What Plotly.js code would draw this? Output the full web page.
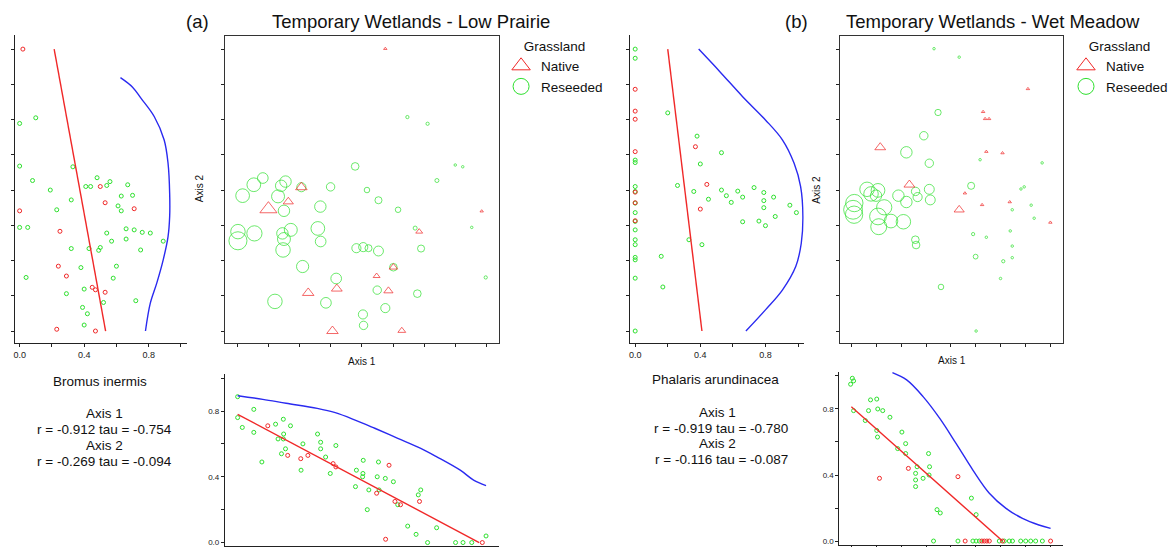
<!DOCTYPE html>
<html><head><meta charset="utf-8">
<script src="https://cdn.plot.ly/plotly-3.0.1.min.js"></script>
<style>html,body{margin:0;padding:0;background:#fff;}#chart{width:1173px;height:547px;}</style>
</head><body><div id="chart"></div>
<script>
// ---------- Panel (a): Temporary Wetlands - Low Prairie (Bromus inermis) ----------
// ordination scores (Axis 1, Axis 2) and species abundance per sample plot
const aNatAx1 = [2.05,0.99,1.63,5.84,5.01,4.47,4.85,3.19,2.27,3.05,5.28,7.85,4.75];
const aNatAx2 = [4.08,3.46,3.67,2.82,1.81,1.56,1.14,1.20,1.08,0.00,0.01,3.40,8.01];
const aNatAbund = [0.35,0.59,0.29,0.15,0.22,0.15,0.25,0.32,0.35,0.35,0.19,0.0,0.0];
const aResAx1 = [3.78,0.81,0.52,0.16,1.40,1.54,1.30,2.05,2.99,4.16,4.53,5.16,2.66,1.49,0.01,0.01,0.54,1.44,1.71,1.49,1.46,2.58,2.67,2.09,3.17,3.82,4.04,4.21,4.53,5.71,5.90,5.01,4.49,5.78,1.20,2.84,4.75,4.03,4.05,7.98,7.53,6.41,7.00,7.24,5.46,6.11];
const aResAx2 = [4.67,4.34,4.15,3.84,4.12,4.24,3.82,4.08,4.09,4.00,3.71,3.44,3.53,3.41,2.82,2.56,2.77,2.77,2.87,2.61,2.30,2.91,2.54,1.83,1.49,2.35,2.38,2.35,2.27,2.92,2.34,1.81,1.16,1.06,0.84,0.80,0.65,0.47,0.16,1.52,2.94,4.27,4.71,4.66,6.07,5.88];
const aResAbund = [0.27,0.43,0.59,0.59,0.47,0.47,0.55,0.35,0.31,0.16,0.24,0.16,0.47,0.47,0.63,0.82,0.67,0.47,0.55,0.55,0.63,0.59,0.43,0.51,0.43,0.35,0.35,0.24,0.39,0.08,0.24,0.27,0.31,0.27,0.63,0.43,0.35,0.35,0.31,0.04,0.0,0.08,0.0,0.0,0.04,0.04];
// side plot: abundance vs Axis 2
const aSideResAbund = [0.10,0.00,0.00,0.33,0.08,0.48,0.41,0.44,0.54,0.56,0.67,0.19,0.32,0.63,0.70,0.61,0.63,0.23,0.00,0.05,0.66,0.71,0.76,0.81,0.54,0.57,0.66,0.89,0.75,0.32,0.43,0.50,0.49,0.60,0.38,0.58,0.04,0.40,0.29,0.52,0.72,0.39,0.42,0.40];
const aSideResAx2 = [6.05,5.89,4.68,4.66,4.27,4.35,4.10,4.10,4.13,4.24,4.15,4.00,3.72,3.83,3.85,3.55,3.41,3.44,2.94,2.94,2.90,2.87,2.80,2.78,2.78,2.55,2.61,2.55,2.30,2.34,2.34,2.37,2.29,1.84,1.80,1.50,1.52,1.19,1.06,0.81,0.86,0.67,0.49,0.17];
const aSideNatAbund = [0.02,0.00,0.25,0.50,0.53,0.71,0.24,0.29,0.45,0.47,0.53,0.23,0.47];
const aSideNatAx2 = [8.00,3.41,2.83,4.10,3.64,3.47,1.84,1.56,1.24,1.17,1.10,0.05,0.00];
const aSideLinAbund = [0.214,0.533];
const aSideLinAx2 = [8.0,0.0];
const aSideSmAbund = [0.625,0.70,0.753,0.835,0.896,0.92,0.93,0.93,0.92,0.89,0.85,0.81,0.78];
const aSideSmAx2 = [7.19,6.92,6.60,6.08,5.42,4.76,3.91,3.25,2.68,2.02,1.36,0.79,0.0];
// bottom plot: Axis 1 vs abundance
const aBotResAx1 = [0.00,0.00,0.15,0.52,0.52,0.78,1.22,1.47,1.48,1.30,1.47,1.70,1.41,1.54,2.10,2.04,2.57,2.67,2.67,2.83,3.16,2.98,3.82,3.79,4.04,4.03,4.02,4.22,4.17,4.49,4.53,4.75,5.01,4.55,5.15,5.47,5.74,5.81,5.89,6.11,6.40,7.01,7.25,7.53,7.99];
const aBotResAbund = [0.887,0.76,0.70,0.81,0.67,0.49,0.72,0.75,0.66,0.63,0.63,0.71,0.54,0.57,0.60,0.44,0.66,0.61,0.57,0.52,0.59,0.42,0.44,0.34,0.50,0.42,0.40,0.32,0.20,0.40,0.49,0.39,0.37,0.32,0.23,0.10,0.05,0.29,0.32,0.0,0.09,0.0,0.0,0.0,0.04];
const aBotNatAx1 = [0.97,1.61,2.03,2.26,3.07,3.16,4.87,4.47,5.06,5.24,5.85,4.76,7.87];
const aBotNatAbund = [0.71,0.53,0.51,0.53,0.48,0.46,0.47,0.30,0.25,0.23,0.25,0.02,0.0];
const aBotLinAx1 = [0.0,7.77];
const aBotLinAbund = [0.78,0.0];
const aBotSmAx1 = [0.0,0.81,1.56,2.56,3.14,3.78,4.41,5.15,5.89,6.42,7.16,7.59,7.99];
const aBotSmAbund = [0.893,0.871,0.847,0.816,0.79,0.745,0.695,0.634,0.573,0.52,0.44,0.38,0.346];
const aStats = ['Bromus inermis','Axis 1','r = -0.912 tau = -0.754','Axis 2','r = -0.269 tau = -0.094'];

// ---------- Panel (b): Temporary Wetlands - Wet Meadow (Phalaris arundinacea) ----------
const bNatAx1 = [1.16,2.33,4.33,7.09,5.29,5.37,5.53,5.42,6.07,4.56,5.25,6.36,7.99];
const bNatAx2 = [5.21,4.15,3.44,6.87,6.22,6.02,6.02,5.09,5.05,3.91,3.58,3.66,3.08];
const bNatAbund = [0.32,0.32,0.29,0,0,0,0,0,0,0,0,0,0];
const bResAx1 = [3.32,4.33,3.48,2.91,2.21,3.13,4.81,5.17,7.66,6.81,6.94,7.22,6.46,7.34,6.38,4.89,5.42,6.46,4.99,6.46,6.10,5.99,3.60,5.01,0.12,0.07,0.11,0.63,0.79,1.07,0.99,1.32,1.07,1.10,1.59,2.09,1.89,2.21,2.58,2.66,3.13,3.17,2.57,2.60];
const bResAx2 = [8.01,7.77,6.20,5.54,5.07,4.76,4.12,4.86,4.77,4.03,4.09,3.57,3.44,3.20,2.84,2.75,2.66,2.41,2.11,2.08,1.98,1.49,1.25,0.00,3.63,3.44,3.30,4.02,3.89,3.99,3.84,3.51,3.25,2.96,3.12,3.10,3.84,3.66,3.96,3.80,4.02,3.72,2.59,2.44];
const bResAbund = [0,0,0.20,0.31,0.47,0.31,0.24,0,0,0,0,0,0,0,0,0.04,0,0,0.12,0,0.04,0,0.16,0,0.78,0.86,0.78,0.63,0.63,0.59,0.47,0.67,0.75,0.71,0.59,0.63,0.47,0.47,0.31,0.35,0.39,0.39,0.27,0.27];
const bSideResAbund = [0.00,0.00,0.20,0.38,0.40,0.53,0.00,0.00,0.26,0.36,0.45,0.53,0.56,0.59,0.63,0.66,0.73,0.79,0.79,0.79,0.85,0.86,0.95,0.99,0.76,0.80,0.66,0.33,0.41,0.16,0.17,0,0,0,0,0,0,0,0,0,0,0,0];
const bSideResAx2 = [8.00,7.74,6.19,5.53,4.74,5.06,4.85,4.78,4.13,3.96,3.74,4.00,3.84,3.65,3.97,3.80,4.07,3.93,3.70,3.50,3.80,3.25,3.57,3.36,3.12,2.99,3.10,2.59,2.45,2.12,1.25,4.10,3.96,3.63,3.36,3.11,2.87,2.59,2.45,2.09,2.02,1.50,0.00];
const bSideNatAbund = [0,0,0,0,0,0,0,0.37,0.44,0.40];
const bSideNatAx2 = [6.86,6.24,6.01,5.09,3.94,3.64,3.13,5.23,4.16,3.46];
const bSideLinAbund = [0.20,0.41];
const bSideLinAx2 = [8.0,0.0];
const bSideSmAbund = [0.39,0.52,0.66,0.80,0.905,0.976,1.016,1.03,1.02,0.986,0.905,0.80,0.68];
const bSideSmAx2 = [8.0,7.36,6.65,5.99,5.42,4.76,4.10,3.25,2.49,1.83,1.17,0.60,0.0];
const bBotResAx1 = [0.04,0.09,-0.03,0.09,0.56,0.69,0.77,1.02,1.06,1.26,1.55,1.02,1.05,2.03,2.18,1.86,2.18,2.64,2.58,2.58,2.58,2.88,3.10,3.14,3.12,3.44,3.57,4.82,5.01,3.30,4.28,4.88,5.01,5.14,5.94,6.14,6.34,6.47,6.80,7.00,7.20,7.40,7.67];
const bBotResAbund = [0.986,0.97,0.95,0.79,0.73,0.79,0.855,0.86,0.80,0.79,0.75,0.67,0.63,0.66,0.59,0.56,0.53,0.45,0.41,0.37,0.33,0.38,0.53,0.45,0.40,0.19,0.17,0.26,0.16,0,0,0,0,0,0,0,0,0,0,0,0,0,0];
const bBotNatAx1 = [2.29,1.13,4.28,4.57,5.24,5.34,5.44,5.54,6.07,8.0];
const bBotNatAbund = [0.44,0.38,0.39,0,0,0,0,0,0,0];
const bBotLinAx1 = [0.0,6.07];
const bBotLinAbund = [0.814,0.0];
const bBotSmAx1 = [1.65,2.22,2.88,3.55,4.21,4.88,5.54,6.21,6.87,7.53,8.0];
const bBotSmAbund = [1.02,0.976,0.875,0.743,0.59,0.43,0.29,0.198,0.137,0.097,0.077];
const bStats = ['Phalaris arundinacea','Axis 1','r = -0.919 tau = -0.780','Axis 2','r = -0.116 tau = -0.087'];

const groups = ['Native','Reseeded'];
const panelTitles = ['Temporary Wetlands - Low Prairie','Temporary Wetlands - Wet Meadow'];
const panelLabels = ['(a)','(b)'];
const axisTick = [0,1,2,3,4,5,6,7,8];
const abTicks = [0,0.2,0.4,0.6,0.8,1.0];
const abText = ['0.0','','0.4','','0.8',''];

// ---------- styling ----------
const RED='#f02828', GREEN='#2ee02e', BLUE='#2a2af0';
const FONT='Liberation Sans, Arial, sans-serif';
const W=1173, H=547;
const dx=(a,b)=>[a/W,b/W];
const dy=(t,b)=>[1-b/H,1-t/H];
const szC = a => a.map(v => 2.5 + 19*v);
const szT = a => a.map(v => 3 + 20*v);

function ordTraces(xa, ya, natX, natY, natA, resX, resY, resA){
  return [
    {type:'scatter',mode:'markers',x:resX,y:resY,xaxis:xa,yaxis:ya,showlegend:false,hoverinfo:'skip',
     marker:{symbol:'circle-open',size:szC(resA),color:GREEN,line:{width:1,color:GREEN}}},
    {type:'scatter',mode:'markers',x:natX,y:natY,xaxis:xa,yaxis:ya,showlegend:false,hoverinfo:'skip',
     marker:{symbol:'triangle-up-open',size:szT(natA),color:RED,line:{width:1,color:RED}}}
  ];
}
function pts(x,y,xa,ya,c){
  return {type:'scatter',mode:'markers',x:x,y:y,xaxis:xa,yaxis:ya,showlegend:false,hoverinfo:'skip',
    marker:{symbol:'circle-open',size:4,color:c,line:{width:1,color:c}}};
}
function ln(x,y,xa,ya,c,spline){
  return {type:'scatter',mode:'lines',x:x,y:y,xaxis:xa,yaxis:ya,showlegend:false,hoverinfo:'skip',
    line:{color:c,width:1.4,shape:spline?'spline':'linear'}};
}
function legendDummy(name, leg, sym, c){
  return {type:'scatter',mode:'markers',x:[null],y:[null],xaxis:'x2',yaxis:'y2',name:name,legend:leg,showlegend:true,
    marker:{symbol:sym,size:16,color:c,line:{width:1,color:c}}};
}

const data = [
  pts(aSideResAbund,aSideResAx2,'x','y',GREEN),
  pts(aSideNatAbund,aSideNatAx2,'x','y',RED),
  ln(aSideLinAbund,aSideLinAx2,'x','y',RED,false),
  ln(aSideSmAbund,aSideSmAx2,'x','y',BLUE,true),
  ...ordTraces('x2','y2',aNatAx1,aNatAx2,aNatAbund,aResAx1,aResAx2,aResAbund),
  pts(aBotResAx1,aBotResAbund,'x3','y3',GREEN),
  pts(aBotNatAx1,aBotNatAbund,'x3','y3',RED),
  ln(aBotLinAx1,aBotLinAbund,'x3','y3',RED,false),
  ln(aBotSmAx1,aBotSmAbund,'x3','y3',BLUE,true),
  pts(bSideResAbund,bSideResAx2,'x4','y4',GREEN),
  pts(bSideNatAbund,bSideNatAx2,'x4','y4',RED),
  ln(bSideLinAbund,bSideLinAx2,'x4','y4',RED,false),
  ln(bSideSmAbund,bSideSmAx2,'x4','y4',BLUE,true),
  ...ordTraces('x5','y5',bNatAx1,bNatAx2,bNatAbund,bResAx1,bResAx2,bResAbund),
  pts(bBotResAx1,bBotResAbund,'x6','y6',GREEN),
  pts(bBotNatAx1,bBotNatAbund,'x6','y6',RED),
  ln(bBotLinAx1,bBotLinAbund,'x6','y6',RED,false),
  ln(bBotSmAx1,bBotSmAbund,'x6','y6',BLUE,true),
  legendDummy(groups[0],'legend','triangle-up-open',RED),
  legendDummy(groups[1],'legend','circle-open',GREEN),
  legendDummy(groups[0],'legend2','triangle-up-open',RED),
  legendDummy(groups[1],'legend2','circle-open',GREEN)
];

const base = {showgrid:false,zeroline:false,showline:true,linecolor:'#222',linewidth:1,
  ticks:'outside',ticklen:3,tickcolor:'#222',tickwidth:1,fixedrange:true,ticklabeloverflow:'allow',
  tickfont:{family:FONT,size:9,color:'#222'}};
function sideX(dom,anchor,range){return Object.assign({},base,{domain:dom,anchor:anchor,range:range,tickvals:abTicks,ticktext:abText});}
function sideY(dom,anchor){return Object.assign({},base,{domain:dom,anchor:anchor,range:[-0.34,8.40],tickvals:axisTick,showticklabels:false});}
function ordX(dom,anchor,range){return Object.assign({},base,{domain:dom,anchor:anchor,range:range,tickvals:axisTick,showticklabels:false,mirror:true,linecolor:'#333'});}
function ordY(dom,anchor){return Object.assign({},base,{domain:dom,anchor:anchor,range:[-0.34,8.37],tickvals:axisTick,showticklabels:false,mirror:true,linecolor:'#333'});}
function botX(dom,anchor,range){return Object.assign({},base,{domain:dom,anchor:anchor,range:range,tickvals:axisTick,showticklabels:false});}
function botY(dom,anchor,range){return Object.assign({},base,{domain:dom,anchor:anchor,range:range,tickvals:abTicks,ticktext:abText,tickfont:{family:FONT,size:8,color:'#222'}});}

const ann = [];
function txt(s,xp,yp,size,extra){ann.push(Object.assign({text:s,x:xp/W,y:1-yp/H,xref:'paper',yref:'paper',showarrow:false,xanchor:'center',yanchor:'middle',font:{family:FONT,size:size,color:'#111'}},extra||{}));}
txt(panelLabels[0],200,22,18.5); txt(panelTitles[0],417,22,18.5);
txt(panelLabels[1],808,22,18.5); txt(panelTitles[1],1007,22,18.5);
txt('Axis 1',367,361,10); txt('Axis 1',965,360,10);
txt('Axis 2',203,188,10,{textangle:-90}); txt('Axis 2',827,190,10,{textangle:-90});
const aY=[381,413,429,445,461], aX=[101,106,106,106,106];
const bY=[379,412,428,443,459], bX=[725,727,731,727,731];
aStats.forEach((s,i)=>txt(s,aX[i],aY[i],13.5));
bStats.forEach((s,i)=>txt(s,bX[i],bY[i],13.5));

const legStyle = (xp)=>({x:xp/W,y:1-33/H,xanchor:'left',yanchor:'top',bgcolor:'rgba(0,0,0,0)',itemsizing:'trace',
  font:{family:FONT,size:13.5,color:'#111'},title:{text:'Grassland',side:'top center',font:{family:FONT,size:13.5,color:'#111'}},
  tracegroupgap:0,itemclick:false,itemdoubleclick:false});

const layout = {
  width:W,height:H,margin:{l:0,r:0,t:0,b:0},paper_bgcolor:'#fff',plot_bgcolor:'rgba(0,0,0,0)',
  font:{family:FONT},showlegend:true,hovermode:false,
  xaxis:sideX(dx(15,190),'y',[-0.03,1.04]), yaxis:sideY(dy(35,343),'x'),
  xaxis2:ordX(dx(228,506),'y2',[-0.41,8.41]), yaxis2:ordY(dy(36,343),'x2'),
  xaxis3:botX(dx(228,506),'y3',[-0.41,8.41]), yaxis3:botY(dy(374,546),'x3',[-0.021,1.025]),
  xaxis4:sideX(dx(639,815),'y4',[-0.03,1.036]), yaxis4:sideY(dy(35,343),'x4'),
  xaxis5:ordX(dx(852,1078),'y5',[-0.44,8.51]), yaxis5:ordY(dy(36,343),'x5'),
  xaxis6:botX(dx(851,1078),'y6',[-0.48,8.51]), yaxis6:botY(dy(372,545),'x6',[-0.024,1.024]),
  legend:legStyle(508), legend2:legStyle(1081),
  annotations:ann
};
Plotly.newPlot('chart',data,layout,{displayModeBar:false,staticPlot:true});
</script></body></html>
